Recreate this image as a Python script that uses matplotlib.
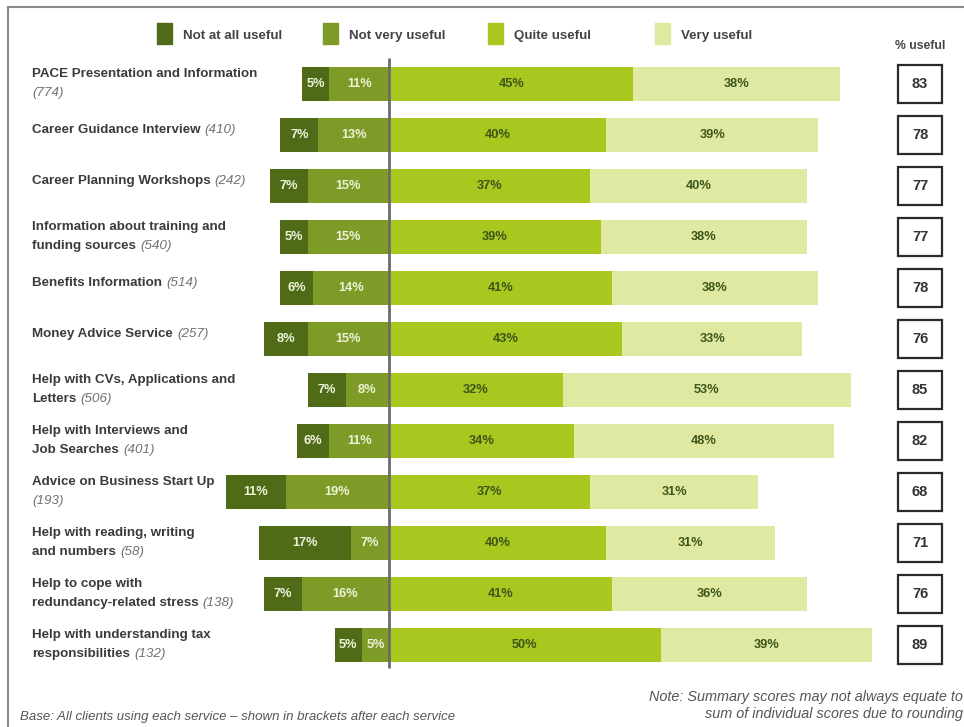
import matplotlib.pyplot as plt
from matplotlib.patches import Rectangle
from matplotlib.lines import Line2D

plt.rcParams['font.family'] = ['Liberation Sans', 'DejaVu Sans']

# survey results, one entry per service (top to bottom)
services = [
    "PACE Presentation and Information\n",
    "Career Guidance Interview",
    "Career Planning Workshops",
    "Information about training and\nfunding sources",
    "Benefits Information",
    "Money Advice Service",
    "Help with CVs, Applications and\nLetters",
    "Help with Interviews and\nJob Searches",
    "Advice on Business Start Up\n",
    "Help with reading, writing\nand numbers",
    "Help to cope with\nredundancy-related stress",
    "Help with understanding tax\nresponsibilities",
]
base_counts = [774, 410, 242, 540, 514, 257, 506, 401, 193, 58, 138, 132]

not_at_all = [5, 7, 7, 5, 6, 8, 7, 6, 11, 17, 7, 5]
not_very = [11, 13, 15, 15, 14, 15, 8, 11, 19, 7, 16, 5]
quite = [45, 40, 37, 39, 41, 43, 32, 34, 37, 40, 41, 50]
very = [38, 39, 40, 38, 38, 33, 53, 48, 31, 31, 36, 39]
pct_useful = [83, 78, 77, 77, 78, 76, 85, 82, 68, 71, 76, 89]

categories = ["Not at all useful", "Not very useful", "Quite useful", "Very useful"]
colors = ["#4f6b17", "#7f9b27", "#a8c71f", "#dfe9a1"]
text_colors = ["#eef3da", "#eef3d8", "#3d5519", "#3d5519"]

W, H = 964, 727
PX = 5.43      # pixels per percentage point
ROW = 51       # pixels between rows
TOP = 84       # centre of first row, pixels from top
ZERO = 389     # x pixel of the 0% line

fig = plt.figure(figsize=(W / 100, H / 100), dpi=100)
ax = fig.add_axes([0, 0, 1, 1])
ax.set_xlim(-ZERO / PX, (W - ZERO) / PX)
ax.set_ylim((H - TOP) / ROW, -TOP / ROW)
ax.axis('off')

rows = list(range(len(services)))
bar_h = 0.65

# negative side grows left from zero, positive side grows right
segments = [
    ([-(a + b) for a, b in zip(not_at_all, not_very)], not_at_all),
    ([-b for b in not_very], not_very),
    ([0] * len(quite), quite),
    (quite, very),
]
for (lefts, widths), col, tcol in zip(segments, colors, text_colors):
    bars = ax.barh(rows, widths, left=lefts, height=bar_h, color=col, linewidth=0)
    ax.bar_label(bars, labels=[f"{v}%" for v in widths], label_type='center',
                 color=tcol, fontsize=9.2, fontweight='bold')

# zero line
ax.vlines(0, -0.51, 11.45, color="#6b6b6b", linewidth=2)

# service names with the base size in brackets
ytr = ax.get_yaxis_transform()
for i, (name, n) in enumerate(zip(services, base_counts)):
    lines = name.split("\n")
    k = len(lines)
    offsets = [5 + 5 * (k - 1) - 19 * j for j in range(k)]
    last = None
    for line, off in zip(lines, offsets):
        if line:
            last = ax.annotate(line, xy=(32 / W, i), xycoords=ytr,
                               xytext=(0, off), textcoords='offset pixels',
                               ha='left', va='center', fontsize=9.6,
                               fontweight='bold', color="#3b3b3b")
        else:
            last = None
    if last is not None:
        ax.annotate(f"({n})", xy=(1, 0), xycoords=last, xytext=(3, 0),
                    textcoords='offset points', ha='left', va='bottom',
                    fontsize=9.6, fontstyle='italic', color="#707070")
    else:
        ax.annotate(f"({n})", xy=(32 / W, i), xycoords=ytr,
                    xytext=(0, offsets[-1]), textcoords='offset pixels',
                    ha='left', va='center', fontsize=9.6,
                    fontstyle='italic', color="#707070")

# % useful boxes
box_x = (920 - ZERO) / PX
box_w = 44 / PX
box_h = 38 / ROW
for i, v in enumerate(pct_useful):
    ax.add_patch(Rectangle((box_x - box_w / 2, i - box_h / 2), box_w, box_h,
                           fill=False, edgecolor="#2a2a2a", linewidth=1.6))
    ax.text(box_x, i, str(v), ha='center', va='center', fontsize=10.5,
            fontweight='bold', color="#333333")
fig.text(920 / W, 1 - 46 / H, "% useful", ha='center', va='center',
         fontsize=8.8, fontweight='bold', color="#444444")

# legend across the top
legend_x = [157, 323, 488, 655]
for x, lab, col in zip(legend_x, categories, colors):
    fig.patches.append(Rectangle((x / W, 1 - 44 / H), 15 / W, 21 / H,
                                 transform=fig.transFigure, color=col))
    fig.text((x + 26) / W, 1 - 36 / H, lab, ha='left', va='center',
             fontsize=9.6, fontweight='bold', color="#444444")

# frame lines
fig.lines.append(Line2D([8 / W, 1], [1 - 7 / H, 1 - 7 / H],
                        transform=fig.transFigure, color="#8a8a8a", linewidth=1.5))
fig.lines.append(Line2D([8 / W, 8 / W], [0, 1 - 7 / H],
                        transform=fig.transFigure, color="#8a8a8a", linewidth=1.5))

# footnotes
fig.text(20 / W, 1 - 717 / H,
         "Base: All clients using each service \u2013 shown in brackets after each service",
         ha='left', va='center', fontsize=9.5, fontstyle='italic', color="#555555")
fig.text(963 / W, 1 - 697 / H, "Note: Summary scores may not always equate to",
         ha='right', va='center', fontsize=10.4, fontstyle='italic', color="#555555")
fig.text(963 / W, 1 - 714 / H, "sum of individual scores due to rounding",
         ha='right', va='center', fontsize=10.4, fontstyle='italic', color="#555555")

fig.savefig("out.png", dpi=100, facecolor="white")
